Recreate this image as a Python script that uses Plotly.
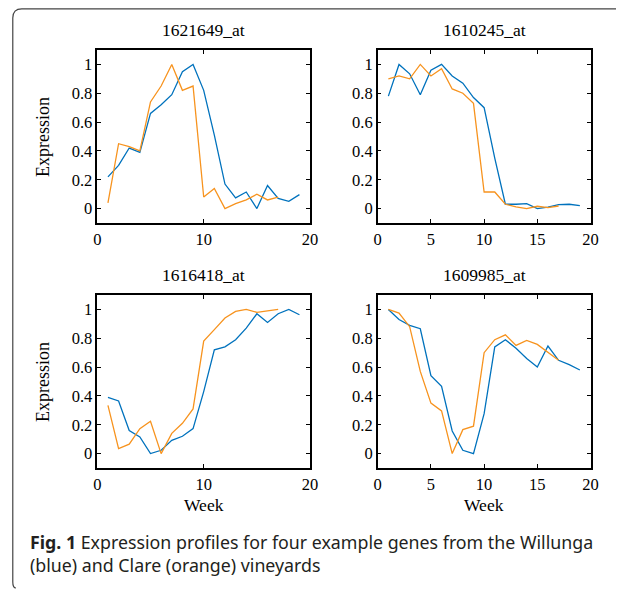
import plotly.graph_objects as go

weeks_w = list(range(1, 20))
weeks_c = list(range(1, 18))

titles = ["1621649_at", "1610245_at", "1616418_at", "1609985_at"]

willunga_1621649 = [0.22, 0.30, 0.42, 0.39, 0.66, 0.72, 0.79, 0.95, 1.00, 0.82, 0.51, 0.17, 0.074, 0.115, 0.0, 0.16, 0.07, 0.05, 0.097]
clare_1621649 = [0.04, 0.45, 0.43, 0.40, 0.74, 0.85, 1.00, 0.82, 0.85, 0.08, 0.14, 0.0, 0.035, 0.06, 0.10, 0.06, 0.08]

willunga_1610245 = [0.78, 1.00, 0.935, 0.79, 0.96, 1.00, 0.92, 0.87, 0.77, 0.70, 0.35, 0.03, 0.03, 0.035, 0.0, 0.01, 0.028, 0.03, 0.02]
clare_1610245 = [0.90, 0.92, 0.90, 1.00, 0.92, 0.97, 0.83, 0.80, 0.73, 0.115, 0.115, 0.03, 0.012, 0.0, 0.016, 0.007, 0.018]

willunga_1616418 = [0.39, 0.365, 0.16, 0.115, 0.0, 0.023, 0.092, 0.12, 0.173, 0.43, 0.72, 0.74, 0.79, 0.87, 0.97, 0.91, 0.97, 1.00, 0.963]
clare_1616418 = [0.335, 0.035, 0.065, 0.173, 0.224, 0.0, 0.14, 0.21, 0.31, 0.78, 0.86, 0.94, 0.986, 1.00, 0.98, 0.99, 1.00]

willunga_1609985 = [1.00, 0.93, 0.89, 0.866, 0.54, 0.467, 0.157, 0.023, 0.0, 0.277, 0.74, 0.79, 0.73, 0.66, 0.60, 0.746, 0.647, 0.617, 0.58]
clare_1609985 = [1.00, 0.975, 0.88, 0.57, 0.35, 0.296, 0.0, 0.166, 0.19, 0.70, 0.79, 0.824, 0.75, 0.785, 0.757, 0.704, 0.647]

willunga = [willunga_1621649, willunga_1610245, willunga_1616418, willunga_1609985]
clare = [clare_1621649, clare_1610245, clare_1616418, clare_1609985]

y_ticks = [0, 0.2, 0.4, 0.6, 0.8, 1]
y_ticklabels = ["0", "0.2", "0.4", "0.6", "0.8", "1"]
x_ticks_sets = [[0, 10, 20], [0, 5, 10, 15, 20], [0, 10, 20], [0, 5, 10, 15, 20]]

BLUE = "#0072BD"
ORANGE = "#F7931E"
SERIF = "Liberation Serif"

# the page body has an 8px margin; the figure sits at (8, 8) in the window
OFF = 8
W, H = 616, 582


def px(x):
    return (x - OFF) / W


def py(y):
    return 1 - (y - OFF) / H


# panel pixel boxes in window coordinates (left, right, top, bottom)
boxes = [(95, 312, 50, 223), (381, 598, 50, 223), (95, 312, 295, 468), (381, 598, 295, 468)]

fig = go.Figure()
layout = dict(
    width=W, height=H, margin=dict(l=0, r=0, t=0, b=0),
    paper_bgcolor="white", plot_bgcolor="white", showlegend=False,
    font=dict(family=SERIF, size=16, color="black"),
)
annotations = []
for i in range(4):
    l, r, t, b = boxes[i]
    sfx = "" if i == 0 else str(i + 1)
    xa, ya = "x" + sfx, "y" + sfx
    fig.add_trace(go.Scatter(x=weeks_w, y=willunga[i], mode="lines",
                             line=dict(color=BLUE, width=1.3), xaxis=xa, yaxis=ya))
    fig.add_trace(go.Scatter(x=weeks_c, y=clare[i], mode="lines",
                             line=dict(color=ORANGE, width=1.3), xaxis=xa, yaxis=ya))
    common = dict(showline=True, linecolor="black", linewidth=1.5, mirror="ticks",
                  ticks="inside", ticklen=4, tickwidth=1, tickcolor="black",
                  showgrid=False, zeroline=False, tickfont=dict(family=SERIF, size=16.5))
    layout["xaxis" + sfx] = dict(domain=[px(l), px(r)], range=[0, 20], anchor=ya,
                                 tickvals=x_ticks_sets[i], **common)
    layout["yaxis" + sfx] = dict(domain=[py(b), py(t)], range=[-0.1, 1.1], anchor=xa,
                                 tickvals=y_ticks, ticktext=y_ticklabels, **common)
    annotations.append(dict(text=titles[i], x=px((l + r) / 2), y=py(t - 20),
                            xref="paper", yref="paper", showarrow=False,
                            xanchor="center", yanchor="middle",
                            font=dict(family=SERIF, size=17.5)))
    if i in (0, 2):
        annotations.append(dict(text="Expression", x=px(39), y=py((t + b) / 2),
                                xref="paper", yref="paper", showarrow=False, textangle=-90,
                                xanchor="center", yanchor="middle",
                                font=dict(family=SERIF, size=18)))
    if i in (2, 3):
        annotations.append(dict(text="Week", x=px((l + r) / 2), y=py(505),
                                xref="paper", yref="paper", showarrow=False,
                                xanchor="center", yanchor="middle",
                                font=dict(family=SERIF, size=17.5)))

annotations.append(dict(
    text="<b>Fig. 1</b> Expression profiles for four example genes from the Willunga<br>(blue) and Clare (orange) vineyards",
    x=px(24), y=py(528), xref="paper", yref="paper", xanchor="left", yanchor="top",
    align="left", showarrow=False, font=dict(family="Noto Sans", size=17.8, color="#231f20")))

layout["annotations"] = annotations
x0, y0 = 0.8 / W, 1 - 0.8 / H
layout["shapes"] = [dict(type="path", xref="paper", yref="paper",
                         path=(f"M 1,{y0} L {px(18)},{y0} Q {x0},{y0} {x0},{py(18)} "
                               f"L {x0},{py(582)} Q {x0},{py(588)} {px(12)},{py(588)}"),
                         line=dict(color="#444", width=1.2))]
fig.update_layout(**layout)
fig.write_html("out.html")
